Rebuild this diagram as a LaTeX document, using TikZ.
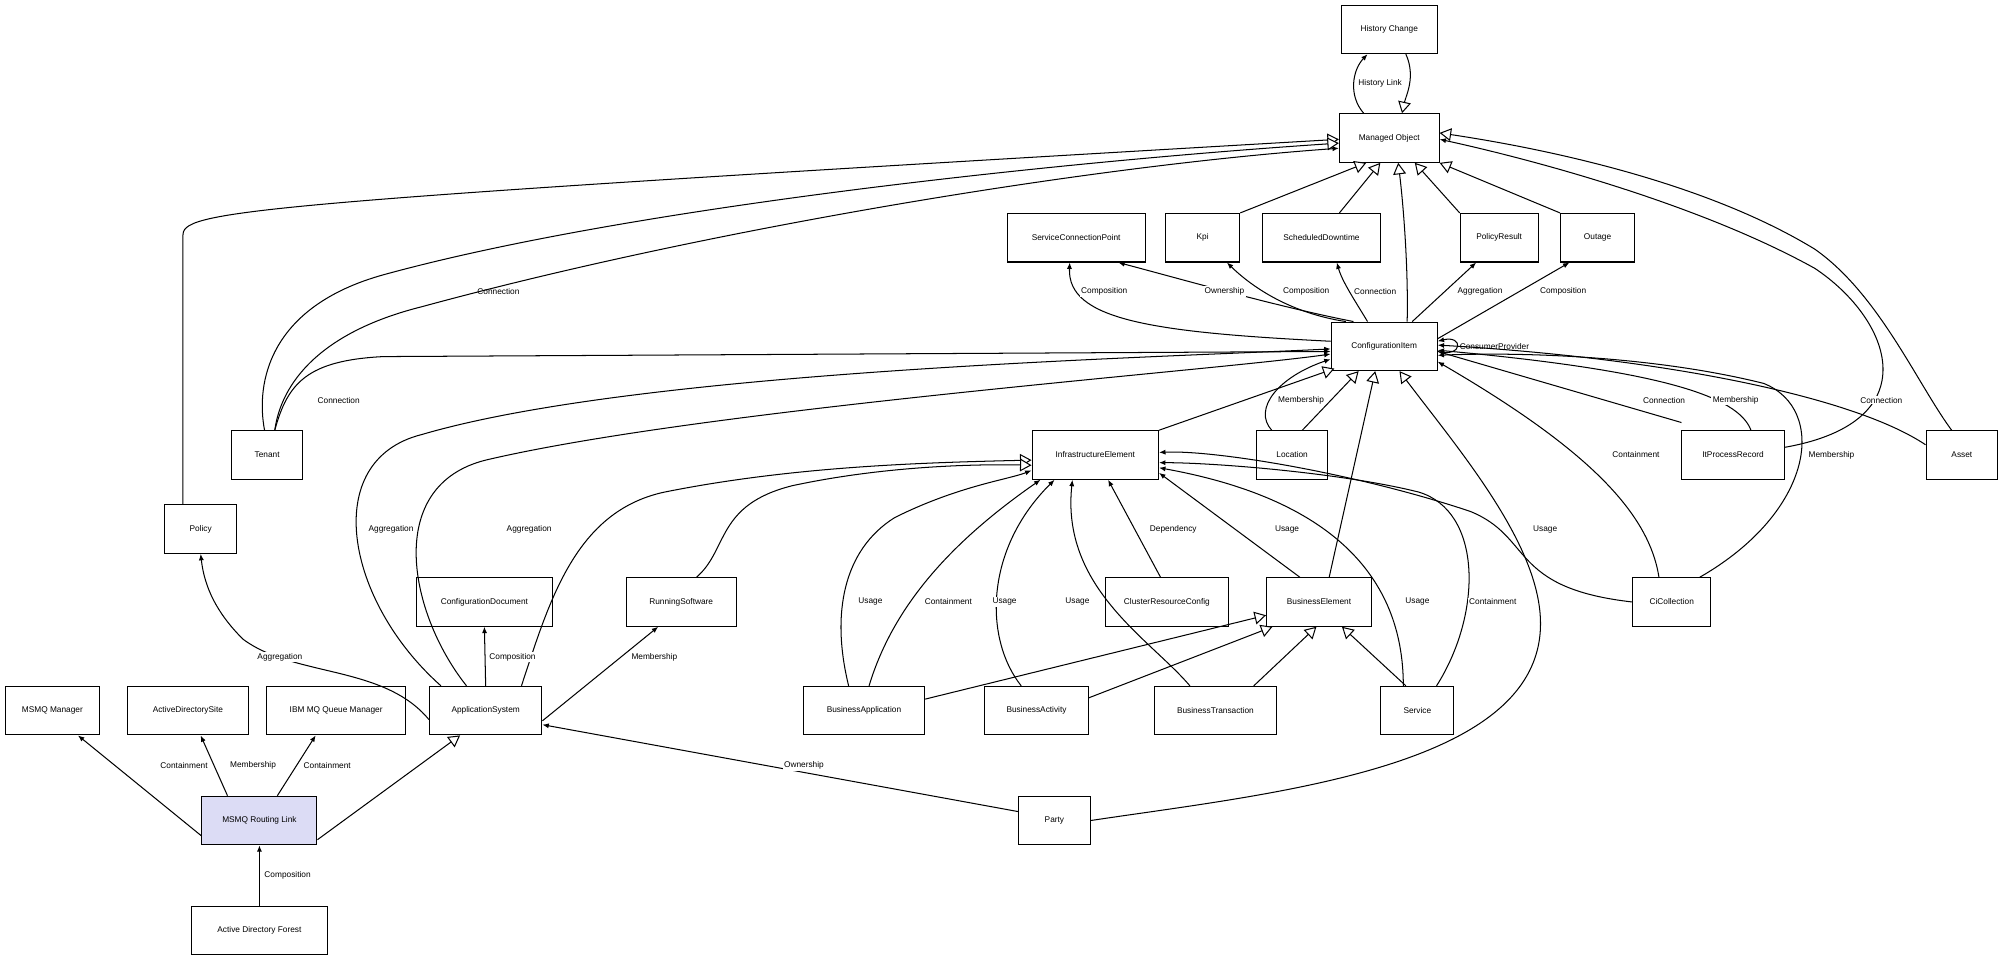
\documentclass[tikz,border=0pt]{standalone}
\usepackage{fontspec}
\setmainfont{Liberation Sans}
\usetikzlibrary{arrows.meta}
\begin{document}
\begin{tikzpicture}[x=1pt,y=-1pt,
  box/.style={draw,thick,fill=white,minimum height=38pt,inner sep=0pt,font=\fontsize{6.5}{7}\selectfont},
  lb/.style={font=\fontsize{6.5}{7}\selectfont,inner sep=1pt},
  as/.style={-{Latex[length=5pt,width=4pt]},thick},
  ih/.style={-{Triangle[open,length=9pt,width=10pt,fill=white]},thick}]
\useasboundingbox (0,0) rectangle (1568,752);
\fill[white] (0,0) rectangle (1568,752);
\node[box,minimum width=75pt] (HC) at (1087,23) {History Change};
\node[box,minimum width=78pt] (MO) at (1087,108) {Managed Object};
\node[box,minimum width=108pt] (SCP) at (842,186) {ServiceConnectionPoint};
\node[box,minimum width=58pt] (Kpi) at (941,186) {Kpi};
\node[box,minimum width=92pt] (SD) at (1034,186) {ScheduledDowntime};
\node[box,minimum width=61pt] (PR) at (1173,186) {PolicyResult};
\node[box,minimum width=58pt] (Out) at (1250,186) {Outage};
\node[box,minimum width=83pt] (CI) at (1083,271) {ConfigurationItem};
\node[box,minimum width=56pt] (Ten) at (209,356) {Tenant};
\node[box,minimum width=99pt] (IE) at (857,356) {InfrastructureElement};
\node[box,minimum width=56pt] (Loc) at (1011,356) {Location};
\node[box,minimum width=80pt] (IPR) at (1356,356) {ItProcessRecord};
\node[box,minimum width=56pt] (Asset) at (1535,356) {Asset};
\node[box,minimum width=56pt] (Pol) at (157,414) {Policy};
\node[box,minimum width=106pt] (CD) at (379,471) {ConfigurationDocument};
\node[box,minimum width=86pt] (RS) at (533,471) {RunningSoftware};
\node[box,minimum width=96pt] (CRC) at (913,471) {ClusterResourceConfig};
\node[box,minimum width=82pt] (BE) at (1032,471) {BusinessElement};
\node[box,minimum width=61pt] (CC) at (1308,471) {CiCollection};
\node[box,minimum width=74pt] (MM) at (41,556) {MSMQ Manager};
\node[box,minimum width=95pt] (ADS) at (147,556) {ActiveDirectorySite};
\node[box,minimum width=109pt] (IBM) at (263,556) {IBM MQ Queue Manager};
\node[box,minimum width=88pt] (AS) at (380,556) {ApplicationSystem};
\node[box,minimum width=95pt] (BA) at (676,556) {BusinessApplication};
\node[box,minimum width=81pt] (BAc) at (811,556) {BusinessActivity};
\node[box,minimum width=96pt] (BT) at (951,556) {BusinessTransaction};
\node[box,minimum width=57pt] (Svc) at (1109,556) {Service};
\node[box,minimum width=90pt,fill={rgb,255:red,220;green,220;blue,245}] (MRL) at (203,642) {MSMQ Routing Link};
\node[box,minimum width=56pt] (Party) at (825,642) {Party};
\node[box,minimum width=106pt] (ADF) at (203,728) {Active Directory Forest};

% History
\draw[as] ([xshift=-20pt]MO.north) .. controls (1055,75) and (1058,55) .. ([xshift=-17pt]HC.south) node[lb,pos=0.5,right=2pt,fill=white] {History Link};
\draw[ih] ([xshift=13pt]HC.south) .. controls (1108,60) and (1100,75) .. ([xshift=10pt]MO.north);
% inheritance to MO
\draw[ih] (Pol.north) ++(-14,0) -- (143,185) .. controls (143,165) and (170,160) .. ([yshift=-1pt]MO.west);
\draw[ih] ([xshift=-2pt]Ten.north) .. controls (200,300) and (210,240) .. (300,215) .. controls (500,160) and (850,125) .. ([yshift=-4pt]MO.west);
\draw[as] ([xshift=6pt]Ten.north) .. controls (220,300) and (250,260) .. (330,240) .. controls (550,180) and (850,130) .. ([yshift=-8pt]MO.west);
\node[lb] at (390,228) {Connection};
\draw[ih] (Kpi.north east) -- ([xshift=-18pt]MO.south);
\draw[ih] ([xshift=14pt]SD.north) -- ([xshift=-7pt]MO.south);
\draw[ih] (PR.north west) -- ([xshift=20pt]MO.south);
\draw[ih] (Out.north west) -- (MO.south east);
\draw[ih] ([xshift=18pt]CI.north) .. controls (1102,210) and (1098,160) .. ([xshift=7pt]MO.south);
\draw[ih] ([xshift=-8pt]Asset.north) .. controls (1500,300) and (1470,230) .. (1420,195) .. controls (1330,140) and (1200,115) .. ([yshift=4pt]MO.east);
\draw[as] ([yshift=6pt]IPR.east) .. controls (1510,330) and (1480,250) .. (1420,210) .. controls (1330,160) and (1200,125) .. ([yshift=-1pt]MO.east);
% CI to top row
\draw[as] ([yshift=4pt]CI.west) .. controls (900,260) and (835,250) .. ([xshift=-5pt]SCP.south);
\node[lb,fill=white] at (864,228) {Composition};
\draw[as] ([xshift=-24pt]CI.north) .. controls (1000,240) and (930,220) .. ([xshift=33pt]SCP.south);
\node[lb,fill=white] at (958,228) {Ownership};
\draw[as] ([xshift=-30pt]CI.north) .. controls (1010,245) and (980,225) .. ([xshift=19pt]Kpi.south);
\node[lb,fill=white] at (1022,228) {Composition};
\draw[as] ([xshift=-13pt]CI.north) .. controls (1060,235) and (1050,220) .. ([xshift=12pt]SD.south);
\node[lb,fill=white] at (1076,228) {Connection};
\draw[as] ([xshift=22pt]CI.north) -- ([xshift=-18pt]PR.south);
\node[lb,fill=white] at (1158,228) {Aggregation};
\draw[as] ([yshift=6pt]CI.east) -- ([xshift=-22pt]Out.south);
\node[lb,fill=white] at (1223,228) {Composition};
% self loop
\draw[as] ([yshift=-4pt]CI.east) .. controls (1145,280) and (1145,262) .. ([yshift=4pt]CI.east);
\node[lb,anchor=west] at (1141,271) {ConsumerProvider};
% into CI left
\draw[as] ([xshift=6pt]Ten.north) .. controls (225,300) and (240,282) .. (300,279) -- ([yshift=-4pt]CI.west);
\node[lb,fill=white] at (265,313) {Connection};
\draw[as] ([xshift=-35pt]AS.north) .. controls (270,470) and (250,360) .. (330,340) .. controls (500,290) and (900,280) .. ([yshift=-2pt]CI.west);
\node[lb,fill=white] at (306,414) {Aggregation};
\draw[as] ([xshift=-15pt]AS.north) .. controls (320,480) and (300,380) .. (380,360) .. controls (550,320) and (950,290) .. ([yshift=-6pt]CI.west);
\node[lb,fill=white] at (414,414) {Aggregation};
% inheritance into CI
\draw[ih] (IE.north east) -- ([xshift=3pt,yshift=2pt]CI.south west);
\draw[as] ([xshift=-16pt]Loc.north) .. controls (980,320) and (1000,295) .. ([yshift=-10pt]CI.west);
\node[lb,fill=white] at (1018,313) {Membership};
\draw[ih] ([xshift=8pt]Loc.north) -- ([xshift=-20pt]CI.south);
\draw[ih] ([xshift=8pt]BE.north) -- ([xshift=-7pt]CI.south);
\draw[ih] (Party.east) .. controls (1000,620) and (1215,600) .. (1205,480) .. controls (1200,420) and (1140,350) .. ([xshift=12pt]CI.south);
% into CI right
\draw[as] ([yshift=6pt]IPR.north west) -- ([yshift=-4pt]CI.east);
\node[lb,fill=white] at (1302,313) {Connection};
\draw[as] ([xshift=14pt]IPR.north) .. controls (1360,310) and (1300,290) .. ([yshift=-3pt]CI.east);
\node[lb,fill=white] at (1358,313) {Membership};
\draw[as] ([yshift=8pt]Asset.west) .. controls (1450,310) and (1300,280) .. ([yshift=1pt]CI.east);
\node[lb,fill=white] at (1472,313) {Connection};
\draw[as] ([xshift=-10pt]CC.north) .. controls (1290,400) and (1240,350) .. ([yshift=-12pt]CI.east);
\node[lb,fill=white] at (1280,356) {Containment};
\draw[as] ([xshift=22pt]CC.north) .. controls (1420,400) and (1430,320) .. (1380,300) .. controls (1300,280) and (1200,275) .. ([yshift=-7pt]CI.east);
\node[lb,fill=white] at (1433,356) {Membership};
% into IE left
\draw[ih] ([xshift=28pt]AS.north) .. controls (430,470) and (450,400) .. (520,385) .. controls (620,365) and (720,362) .. ([yshift=-4pt]IE.west);
\draw[ih] ([xshift=12pt]RS.north) .. controls (570,430) and (560,395) .. (620,380) .. controls (690,365) and (760,363) .. ([yshift=-8pt]IE.west);
% into IE bottom
\draw[as] ([xshift=-12pt]BA.north) .. controls (650,480) and (660,430) .. (700,405) .. controls (750,380) and (790,375) .. ([yshift=-12pt]IE.west);
\node[lb,fill=white] at (681,471) {Usage};
\draw[as] ([xshift=4pt]BA.north) .. controls (700,470) and (750,420) .. ([xshift=7pt]IE.south west);
\node[lb,fill=white] at (742,471) {Containment};
\draw[as] ([xshift=-12pt]BAc.north) .. controls (770,500) and (770,430) .. ([xshift=18pt]IE.south west);
\node[lb,fill=white] at (786,471) {Usage};
\draw[as] ([xshift=-20pt]BT.north) .. controls (900,500) and (830,460) .. ([xshift=32pt]IE.south west);
\node[lb,fill=white] at (843,471) {Usage};
\draw[as] ([xshift=-5pt]CRC.north) -- ([xshift=10pt]IE.south);
\node[lb,fill=white] at (918,414) {Dependency};
\draw[as] ([xshift=-15pt]BE.north) -- ([yshift=-14pt]IE.east);
\node[lb,fill=white] at (1007,414) {Usage};
\draw[as] ([xshift=-11pt]Svc.north) .. controls (1098,450) and (1040,390) .. ([yshift=-10pt]IE.east);
\node[lb,fill=white] at (1109,471) {Usage};
\draw[as] ([xshift=15pt]Svc.north) .. controls (1160,480) and (1160,400) .. (1110,385) .. controls (1050,370) and (950,362) .. ([yshift=-6pt]IE.east);
\node[lb,fill=white] at (1168,471) {Containment};
\draw[as] (CC.west) .. controls (1180,460) and (1200,420) .. (1150,400) .. controls (1060,370) and (950,352) .. ([yshift=2pt]IE.east);
\node[lb,fill=white] at (1209,414) {Usage};
% into BE
\draw[ih] ([yshift=9pt]BA.east) -- ([yshift=9pt]BE.south west);
\draw[ih] ([yshift=10pt]BAc.east) -- ([xshift=5pt]BE.south west);
\draw[ih] ([xshift=30pt]BT.north) -- ([xshift=-2pt]BE.south);
\draw[ih] ([xshift=-9pt]Svc.north) -- ([xshift=18pt]BE.south);
% ApplicationSystem
\draw[as] ([yshift=-7pt]AS.west) .. controls (300,520) and (230,530) .. (190,500) .. controls (170,480) and (160,460) .. (Pol.south);
\node[lb,fill=white] at (219,514) {Aggregation};
\draw[as] (AS.north) -- (CD.south);
\node[lb,fill=white] at (401,514) {Composition};
\draw[as] ([yshift=-8pt]AS.east) -- ([xshift=-18pt]RS.south);
\node[lb,fill=white] at (512,514) {Membership};
\draw[as] ([yshift=7pt]Party.west) -- ([yshift=-11pt]AS.east);
\node[lb,fill=white] at (629,599) {Ownership};
% MSMQ Routing Link
\draw[as] ([yshift=-12pt]MRL.west) -- ([xshift=20pt]MM.south);
\node[lb,fill=white] at (144,599) {Containment};
\draw[as] ([xshift=-25pt]MRL.north) -- ([xshift=10pt]ADS.south);
\node[lb,fill=white] at (198,599) {Membership};
\draw[as] ([xshift=14pt]MRL.north) -- ([xshift=-16pt]IBM.south);
\node[lb,fill=white] at (256,599) {Containment};
\draw[ih] ([yshift=-15pt]MRL.east) -- ([xshift=-20pt]AS.south);
\draw[as] (ADF.north) -- (MRL.south);
\node[lb,fill=white] at (225,685) {Composition};
\end{tikzpicture}
\end{document}
